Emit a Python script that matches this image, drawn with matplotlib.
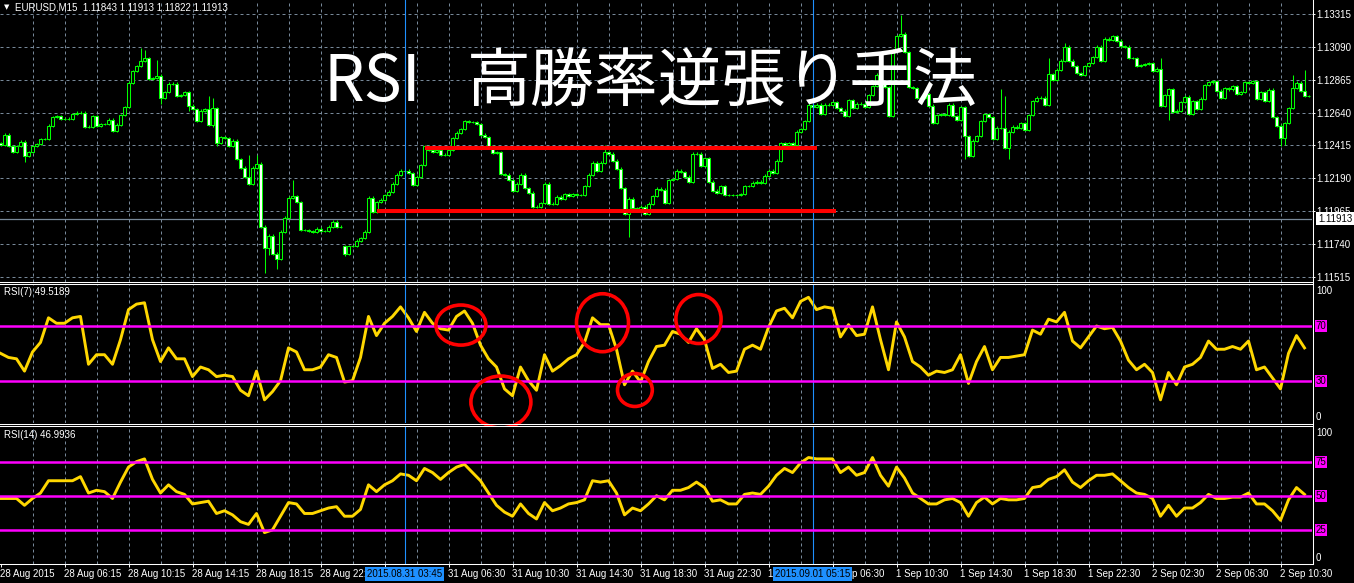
# ============================================================
# EURUSD M15 + RSI(7) / RSI(14) - MT4 style screenshot
# ============================================================

import numpy as np
import matplotlib
matplotlib.use("Agg")
import matplotlib.pyplot as plt
from matplotlib.patches import Ellipse
from matplotlib.lines import Line2D

plt.rcParams['font.family'] = ['Liberation Sans', 'DejaVu Sans']


# ============================================================
# 1. DATA
# ============================================================

# close of every M15 candle, left to right
closes = [
    1.12418, 1.12487, 1.12411, 1.12370, 1.12411, 1.12439, 1.12343, 1.12370, 1.12411, 1.12425,
    1.12459, 1.12459, 1.12549, 1.12610, 1.12617, 1.12597, 1.12597, 1.12597, 1.12631, 1.12638,
    1.12638, 1.12542, 1.12542, 1.12617, 1.12549, 1.12562, 1.12562, 1.12590, 1.12514, 1.12556,
    1.12624, 1.12679, 1.12844, 1.12926, 1.12960, 1.12995, 1.13015, 1.12871, 1.12878, 1.12892,
    1.12741, 1.12782, 1.12837, 1.12837, 1.12754, 1.12761, 1.12782, 1.12686, 1.12665, 1.12583,
    1.12652, 1.12665, 1.12556, 1.12672, 1.12432, 1.12473, 1.12466, 1.12411, 1.12446, 1.12322,
    1.12261, 1.12199, 1.12151, 1.12261, 1.12288, 1.11856, 1.11712, 1.11794, 1.11671, 1.11636,
    1.11822, 1.11918, 1.12055, 1.12068, 1.12027, 1.11835, 1.11835, 1.11828, 1.11822, 1.11842,
    1.11828, 1.11828, 1.11856, 1.11890, 1.11856, 1.11856, 1.11671, 1.11725, 1.11725, 1.11760,
    1.11780, 1.11822, 1.12055, 1.11959, 1.12027, 1.12041, 1.12075, 1.12096, 1.12151, 1.12213,
    1.12240, 1.12240, 1.12226, 1.12144, 1.12199, 1.12281, 1.12411, 1.12384, 1.12370, 1.12384,
    1.12350, 1.12350, 1.12384, 1.12466, 1.12501, 1.12528, 1.12583, 1.12576, 1.12576, 1.12562,
    1.12487, 1.12473, 1.12411, 1.12363, 1.12370, 1.12219, 1.12213, 1.12178, 1.12103, 1.12151,
    1.12213, 1.12123, 1.12089, 1.11993, 1.11993, 1.12020, 1.12151, 1.12014, 1.12014, 1.12062,
    1.12048, 1.12082, 1.12068, 1.12082, 1.12075, 1.12075, 1.12137, 1.12213, 1.12295, 1.12240,
    1.12295, 1.12370, 1.12357, 1.12309, 1.12254, 1.12123, 1.11945, 1.12048, 1.11986, 1.11972,
    1.11993, 1.11945, 1.12014, 1.12068, 1.12117, 1.12110, 1.12020, 1.12178, 1.12185, 1.12240,
    1.12233, 1.12199, 1.12165, 1.12357, 1.12357, 1.12274, 1.12329, 1.12165, 1.12103, 1.12089,
    1.12137, 1.12075, 1.12075, 1.12075, 1.12075, 1.12082, 1.12137, 1.12137, 1.12158, 1.12165,
    1.12158, 1.12206, 1.12240, 1.12226, 1.12309, 1.12432, 1.12418, 1.12432, 1.12418, 1.12508,
    1.12528, 1.12583, 1.12693, 1.12679, 1.12693, 1.12631, 1.12693, 1.12693, 1.12713, 1.12672,
    1.12652, 1.12617, 1.12727, 1.12672, 1.12700, 1.12700, 1.12679, 1.12761, 1.12823, 1.12899,
    1.12850, 1.12816, 1.12617, 1.13070, 1.13166, 1.13180, 1.13056, 1.12816, 1.12809, 1.12741,
    1.12741, 1.12768, 1.12686, 1.12569, 1.12624, 1.12631, 1.12624, 1.12693, 1.12617, 1.12590,
    1.12679, 1.12480, 1.12343, 1.12446, 1.12480, 1.12583, 1.12631, 1.12610, 1.12459, 1.12535,
    1.12535, 1.12398, 1.12508, 1.12542, 1.12535, 1.12569, 1.12521, 1.12624, 1.12720, 1.12741,
    1.12741, 1.12693, 1.12905, 1.12864, 1.12933, 1.12995, 1.13091, 1.12995, 1.12960, 1.12912,
    1.12899, 1.12960, 1.12981, 1.13022, 1.13091, 1.12995, 1.13146, 1.13139, 1.13166, 1.13132,
    1.13097, 1.13091, 1.13015, 1.13015, 1.12960, 1.12967, 1.12974, 1.12981, 1.12926, 1.12940,
    1.12686, 1.12761, 1.12802, 1.12645, 1.12652, 1.12713, 1.12748, 1.12631, 1.12720, 1.12665,
    1.12734, 1.12830, 1.12850, 1.12857, 1.12789, 1.12741, 1.12809, 1.12802, 1.12823, 1.12768,
    1.12782, 1.12850, 1.12844, 1.12857, 1.12734, 1.12782, 1.12720, 1.12796, 1.12610, 1.12549,
    1.12466, 1.12569, 1.12672, 1.12809, 1.12844, 1.12789, 1.12754, 1.12754,
]

first_open = 1.12430
gap_opens = {86: 1.11725}          # monday open after the weekend gap

# candles with a visible long shadow
long_highs = {35: 1.13087, 36: 1.13070, 39: 1.13001, 52: 1.12754, 53: 1.12741,
              62: 1.12350, 64: 1.12350, 73: 1.12178, 151: 1.12418, 225: 1.13310,
              250: 1.12802, 251: 1.12754, 262: 1.13015, 266: 1.13118, 290: 1.13015,
              323: 1.12899, 326: 1.12933}
long_lows = {6: 1.12302, 40: 1.12700, 47: 1.12652, 53: 1.12542, 54: 1.12411,
             66: 1.11540, 67: 1.11664, 69: 1.11568, 86: 1.11657, 157: 1.11787,
             241: 1.12322, 252: 1.12322, 292: 1.12590, 320: 1.12411, 321: 1.12418}

# RSI values, read every second candle
rsi7 = [
    50, 47, 46, 37, 51, 58, 76, 72, 72, 76, 77, 42, 49, 49, 42, 60, 82, 86, 87, 60,
    44, 54, 46, 46, 33, 40, 38, 33,
    34, 33, 23, 19, 37, 16, 22, 30, 54, 51, 38, 38, 40, 49, 47, 29, 30, 47, 77, 63,
    72, 77, 84, 76, 66, 80, 72,
    68, 67, 77, 81, 72, 56, 46, 40, 24, 19, 40, 30, 23, 49, 37, 41, 46, 49, 58, 76,
    71, 71, 53, 27, 37, 29, 44, 55,
    56, 66, 64, 58, 68, 60, 39, 42, 36, 37, 53, 56, 53, 69, 81, 83, 76, 88, 91, 82,
    84, 83, 62, 71, 63, 64, 84,
    60, 38, 73, 62, 44, 40, 34, 37, 36, 38, 49, 28, 44, 55, 38, 47, 47, 48, 49, 67,
    64, 75, 73, 80, 59, 54, 62,
    70, 68, 69, 59, 45, 38, 42, 36, 16, 36, 27, 40, 42, 47, 59, 53, 53, 55, 53, 59,
    38, 40, 32, 24, 50, 63, 54,
]
rsi14 = [
    48, 48, 48, 43, 48, 52, 61, 61, 61, 61, 64, 52, 54, 53, 48, 60, 71, 75, 77, 62,
    52, 58, 53, 51, 44, 45, 46, 37,
    39, 36, 31, 29, 37, 23, 25, 35, 45, 44, 37, 37, 39, 41, 42, 35, 35, 40, 58, 53,
    58, 61, 66, 65, 61, 70, 67,
    62, 67, 71, 73, 67, 61, 52, 43, 38, 35, 44, 37, 33, 45, 39, 41, 44, 45, 47, 61,
    60, 61, 52, 36, 41, 39, 44, 50,
    47, 54, 54, 56, 60, 56, 46, 47, 44, 44, 51, 52, 51, 57, 65, 70, 67, 74, 78, 77,
    77, 77, 67, 71, 65, 67, 78,
    65, 57, 71, 63, 52, 48, 44, 44, 47, 48, 45, 35, 45, 49, 44, 48, 47, 47, 48, 56,
    57, 62, 64, 69, 60, 56, 61,
    65, 65, 66, 61, 56, 52, 51, 48, 35, 43, 35, 41, 41, 45, 51, 48, 48, 49, 49, 52,
    44, 44, 39, 32, 47, 56, 51,
]

price_ticks = [1.11515, 1.11740, 1.11965, 1.12190, 1.12415,
               1.12640, 1.12865, 1.13090, 1.13315]
last_price = 1.11913

# the 31 Aug 02:30 label sits completely under the crosshair date box
time_ticks = list(range(0, 321, 16))
time_labels = ["28 Aug 2015", "28 Aug 06:15", "28 Aug 10:15", "28 Aug 14:15",
               "28 Aug 18:15", "28 Aug 22:15", "", "31 Aug 06:30",
               "31 Aug 10:30", "31 Aug 14:30", "31 Aug 18:30", "31 Aug 22:30",
               "1 Sep 02:30", "1 Sep 06:30", "1 Sep 10:30", "1 Sep 14:30",
               "1 Sep 18:30", "1 Sep 22:30", "2 Sep 02:30", "2 Sep 06:30",
               "2 Sep 10:30"]

# vertical marker lines (candle index, label)
markers = [(101, "2015.08.31 03:45"), (203, "2015.09.01 05:15")]

# red support / resistance lines: (start idx, end idx, price)
red_lines = [(106.1, 204.1, 1.12396), (94.0, 208.8, 1.11968)]

# red circles on RSI(7): (idx, value, width in candles, height in RSI)
circles = [(115.1, 70.7, 12.5, 29.3), (125.1, 14.4, 15.0, 38.0),
           (150.5, 72.4, 13.0, 42.4), (158.6, 23.2, 8.7, 24.1),
           (174.5, 75.1, 11.3, 35.8)]


# ============================================================
# 2. CANDLE OHLC
# ============================================================

closes = np.array(closes)
idx = np.arange(len(closes))
opens = np.concatenate(([first_open], closes[:-1]))
for k, v in gap_opens.items():
    opens[k] = v

wick_pad = 0.00010
highs = np.maximum(opens, closes) + wick_pad
lows = np.minimum(opens, closes) - wick_pad
for k, v in long_highs.items():
    highs[k] = v
for k, v in long_lows.items():
    lows[k] = v

rsi_idx = np.arange(0, len(closes), 2)


# ============================================================
# 3. FIGURE LAYOUT
# ============================================================

W, H = 1354, 583
GRID = '#778899'
LIME = '#00FF00'
MAGENTA = '#FF00FF'
GOLD = '#FFD700'
BLUE = '#1E90FF'

fig = plt.figure(figsize=(W / 100, H / 100), dpi=100, facecolor='black')


def px_rect(left, top, right, bottom):
    return [left / W, 1 - bottom / H, (right - left) / W, (bottom - top) / H]


ax_p = fig.add_axes(px_rect(0, 0, 1312, 282))
ax_r7 = fig.add_axes(px_rect(0, 284, 1312, 423))
ax_r14 = fig.add_axes(px_rect(0, 426, 1312, 564))
axes = [ax_p, ax_r7, ax_r14]

for ax in axes:
    ax.set_facecolor('black')
    for s in ax.spines.values():
        s.set_visible(False)
    ax.set_xlim(-0.125, 327.875)
    for gx in range(8, 328, 8):
        ax.axvline(gx, color=GRID, lw=0.72, ls=(0, (3, 3)), zorder=0)
    for mx, _ in markers:
        ax.axvline(mx, color=BLUE, lw=0.8, zorder=3.5)

ax_p.set_ylim(1.11478, 1.13413)
ax_r7.set_ylim(-0.95, 100.73)
ax_r14.set_ylim(0, 101.1)


# ============================================================
# 4. PRICE PANEL
# ============================================================

for p in price_ticks:
    ax_p.axhline(p, color=GRID, lw=0.72, ls=(0, (3, 3)), zorder=0)
ax_p.axhline(last_price, color=GRID, lw=0.9, zorder=1)

ax_p.vlines(idx, lows, highs, color=LIME, lw=0.75, zorder=2)
bull = closes >= opens
ax_p.bar(idx, np.abs(closes - opens), bottom=np.minimum(opens, closes),
         width=0.62, color=np.where(bull, 'black', 'white'),
         edgecolor=LIME, linewidth=0.75, zorder=3)

for x0, x1, y in red_lines:
    ax_p.hlines(y, x0, x1, color='red', lw=2.9, zorder=4)

ax_p.set_xticks([])
ax_p.yaxis.tick_right()
ax_p.set_yticks(price_ticks)
ax_p.set_yticklabels([f"{p:.5f}" for p in price_ticks])
ax_p.tick_params(axis='y', colors='white', length=2.2, width=0.7,
                 pad=1.2, labelsize=7)

ax_p.annotate(f"{last_price:.5f}", xy=(1, last_price),
              xycoords=('axes fraction', 'data'), xytext=(6, 0),
              textcoords='offset pixels', ha='left', va='center',
              fontsize=7, color='black', zorder=10,
              bbox=dict(facecolor='white', edgecolor='none', pad=1.2))


# ============================================================
# 5. RSI PANELS
# ============================================================

ax_r7.plot(rsi_idx, rsi7, color=GOLD, lw=2.1, zorder=3)
ax_r14.plot(rsi_idx, rsi14, color=GOLD, lw=2.1, zorder=3)

for ax, levels in [(ax_r7, [70, 30]), (ax_r14, [75, 50, 25])]:
    for lv in levels:
        ax.axhline(lv, color=MAGENTA, lw=1.8, zorder=4)
        ax.annotate(str(lv), xy=(1, lv), xycoords=('axes fraction', 'data'),
                    xytext=(3.5, 0), textcoords='offset pixels',
                    ha='left', va='center', fontsize=7, color='black',
                    bbox=dict(facecolor=MAGENTA, edgecolor='none', pad=0.6))
    ax.set_yticks([])

for ax, val, dy in [(ax_r7, 100, -6), (ax_r7, 0, 5),
                    (ax_r14, 100, -5), (ax_r14, 0, 6)]:
    ax.annotate(str(val), xy=(1, val), xycoords=('axes fraction', 'data'),
                xytext=(4, dy), textcoords='offset pixels',
                ha='left', va='center', fontsize=7, color='white')

for cx, cy, w, h in circles:
    ax_r7.add_patch(Ellipse((cx, cy), w, h, fill=False, edgecolor='red',
                            lw=2.6, zorder=6, clip_on=False))

ax_r7.set_xticks([])

ax_r14.set_xticks(time_ticks)
ax_r14.set_xticklabels(time_labels)
ax_r14.tick_params(axis='x', colors='white', length=2.2, width=0.7,
                   pad=1.5, labelsize=7)
for lab in ax_r14.get_xticklabels():
    lab.set_ha('left')

for mx, text in markers:
    ax_r14.text(mx, -0.072, text, transform=ax_r14.get_xaxis_transform(),
                ha='center', va='center', fontsize=7, color='black', zorder=10,
                bbox=dict(facecolor=BLUE, edgecolor='none', pad=1.6))


# ============================================================
# 6. FRAME LINES AND TEXTS
# ============================================================

def fig_line(x0, y0, x1, y1):
    fig.add_artist(Line2D([x0 / W, x1 / W], [1 - y0 / H, 1 - y1 / H],
                          transform=fig.transFigure, color='white', lw=0.75))


for yy in [282.0, 284.0, 423.5, 425.5]:
    fig_line(0, yy, 1313, yy)
fig_line(1312.5, 0, 1312.5, 564)
fig_line(0, 564, 1312.5, 564)

fig.text(4 / W, 1 - 7 / H, "\u25bc", fontsize=5, color='white',
         va='center', family=['DejaVu Sans'])
fig.text(15 / W, 1 - 7.5 / H, "EURUSD,M15  1.11843 1.11913 1.11822 1.11913",
         fontsize=7, color='white', va='center')
fig.text(4 / W, 1 - 292 / H, "RSI(7) 49.5189", fontsize=7,
         color='white', va='center')
fig.text(4 / W, 1 - 435 / H, "RSI(14) 46.9936", fontsize=7,
         color='white', va='center')

title_font = ['Noto Sans CJK JP', 'DejaVu Sans']
fig.text(323 / W, 1 - 101 / H, "RSI", fontsize=46, color='white',
         va='baseline', family=title_font, zorder=20)
fig.text(467 / W, 1 - 101 / H, "高勝率逆張り手法", fontsize=46, color='white',
         va='baseline', family=title_font, zorder=20)

fig.savefig("out.png", dpi=100, facecolor='black')
